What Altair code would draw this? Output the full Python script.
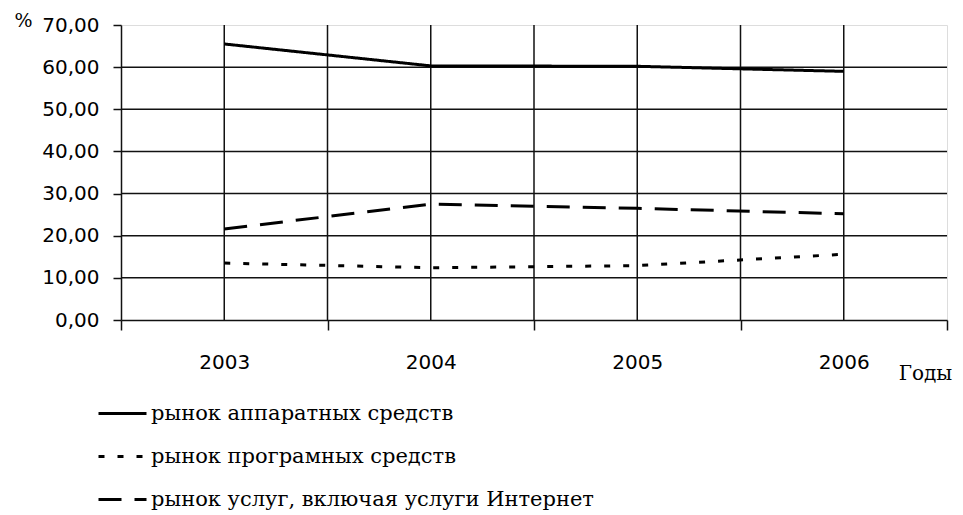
import altair as alt
import pandas as pd

years = [2003, 2004, 2005, 2006]
hardware = [65.5, 60.3, 60.2, 59.0]
software = [13.5, 12.4, 12.9, 15.6]
services = [21.6, 27.5, 26.5, 25.2]
series_names = [
    "рынок аппаратных средств",
    "рынок програмных средств",
    "рынок услуг, включая услуги  Интернет",
]
x_bounds = [2002.5, 2003.5, 2004.5, 2005.5, 2006.5]
x_grid = [2003, 2003.5, 2004, 2004.5, 2005, 2005.5, 2006]
y_ticks = [0, 10, 20, 30, 40, 50, 60, 70]
y_grid = [10, 20, 30, 40, 50, 60]

rows = []
for name, vals in zip(series_names, [hardware, software, services]):
    for yr, v in zip(years, vals):
        rows.append({"year": yr, "value": v, "series": name})
df = pd.DataFrame(rows)

AX = "#111"
x_scale = alt.Scale(domain=[2002.5, 2006.5], nice=False, zero=False)
y_scale = alt.Scale(domain=[0, 70], nice=False)

x_label_axis = alt.Axis(
    values=years,
    orient="bottom",
    title="Годы",
    titleFont="DejaVu Serif",
    titleFontSize=20,
    titleFontWeight="normal",
    titleColor="#000",
    titleX=804,
    titleY=53,
    titleAlign="center",
    titleBaseline="middle",
    titleAngle=0,
    format="d",
    labelOverlap=False,
    labelFlush=False,
    labelFont="DejaVu Sans",
    labelFontSize=20,
    labelColor="#000",
    labelBaseline="middle",
    labelPadding=42,
    ticks=False,
    tickSize=0,
    grid=False,
    domainColor=AX,
    domainWidth=1.5,
)

x_tick_axis = alt.Axis(
    values=x_bounds,
    orient="bottom",
    title=None,
    labels=False,
    tickSize=10,
    tickColor=AX,
    tickWidth=1.5,
    grid=False,
    domain=False,
)

y_axis = alt.Axis(
    values=y_ticks,
    title="%",
    titleFont="DejaVu Serif",
    titleFontSize=19,
    titleFontWeight="normal",
    titleColor="#000",
    titleAngle=0,
    titleX=-98,
    titleY=-5,
    titleAlign="center",
    titleBaseline="middle",
    labelExpr="replace(format(datum.value, '.2f'), '.', ',')",
    labelFont="DejaVu Sans",
    labelFontSize=20,
    labelColor="#000",
    labelPadding=14,
    tickSize=8,
    tickColor=AX,
    tickWidth=1.5,
    domainColor=AX,
    domainWidth=1.5,
    grid=False,
)

vgrid = (
    alt.Chart(pd.DataFrame({"gx": x_grid}))
    .mark_rule(color=AX, strokeWidth=1.5)
    .encode(x=alt.X("gx:Q", scale=x_scale, axis=x_tick_axis))
)

hgrid = (
    alt.Chart(pd.DataFrame({"gy": y_grid}))
    .mark_rule(color=AX, strokeWidth=1.5)
    .encode(y=alt.Y("gy:Q", scale=y_scale, axis=y_axis, title="%"))
)

lines = (
    alt.Chart(df)
    .mark_line(color="#000", strokeWidth=3, clip=False)
    .encode(
        x=alt.X("year:Q", scale=x_scale, axis=x_label_axis),
        y=alt.Y("value:Q", scale=y_scale, axis=y_axis, title="%"),
        strokeDash=alt.StrokeDash(
            "series:N",
            scale=alt.Scale(domain=series_names, range=[[1, 0], [6, 13], [23, 13]]),
            legend=alt.Legend(
                title=None,
                orient="none",
                legendX=-24,
                legendY=363,
                symbolType="stroke",
                symbolSize=2304,
                symbolStrokeWidth=3,
                symbolStrokeColor="#000",
                labelFont="DejaVu Serif",
                labelFontSize=21,
                labelColor="#000",
                labelOffset=3,
                rowPadding=7,
                padding=0,
                labelLimit=0,
            ),
        ),
    )
)

chart = (
    alt.layer(vgrid, hgrid, lines)
    .resolve_axis(x="independent")
    .properties(
        width=826,
        height=295,
        autosize=alt.AutoSizeParams(type="none"),
        padding={"left": 113, "top": 17, "right": 8, "bottom": 192},
    )
    .configure_view(stroke=None)
    .configure(background="white")
)

chart.save("out.html", embed_options={"renderer": "svg", "actions": False})
